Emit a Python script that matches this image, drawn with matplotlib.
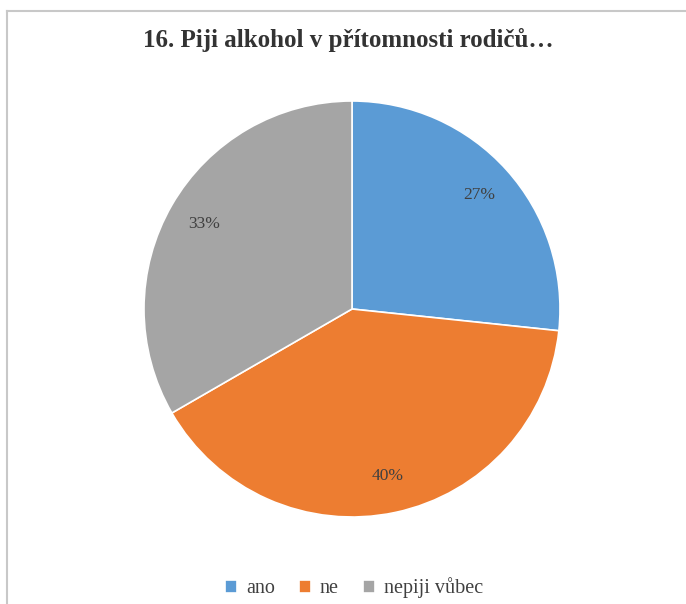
import matplotlib.pyplot as plt
from matplotlib.lines import Line2D

# odpovědi na otázku 16
labels = ['ano', 'ne', 'nepiji vůbec']
counts = [8, 12, 10]
colors = ['#5B9BD5', '#ED7D31', '#A5A5A5']

plt.rcParams['font.family'] = ['Liberation Serif', 'DejaVu Serif']

fig = plt.figure(figsize=(6.86, 6.04), dpi=100)
W, H = 686, 604

# rámeček grafu (levý a horní okraj)
fig.add_artist(Line2D([7 / W, 7 / W], [0, 1 - 11 / H], color='#C8C8C8', lw=1.5))
fig.add_artist(Line2D([7 / W, 1], [1 - 11 / H, 1 - 11 / H], color='#C8C8C8', lw=1.5))

# koláč: střed (352, 309), poloměr 208 px
r = 208
cx, cy = 352, 309
ax = fig.add_axes([(cx - r) / W, 1 - (cy + r) / H, 2 * r / W, 2 * r / H])
wedges, texts, autotexts = ax.pie(
    counts, colors=colors, startangle=90, counterclock=False,
    autopct=lambda p: f'{p:.0f}%', pctdistance=0.82,
    wedgeprops=dict(edgecolor='white', linewidth=1.2),
    textprops=dict(color='#404040', fontsize=12.5))
ax.set_aspect('equal')
ax.set_xlim(-1, 1)
ax.set_ylim(-1, 1)

fig.text(348 / W, 1 - 40 / H, '16. Piji alkohol v přítomnosti rodičů…',
         ha='center', va='center', fontsize=18, fontweight='bold', color='#333333')

fig.legend(wedges, labels, loc='center', bbox_to_anchor=(354 / W, 1 - 588 / H),
           ncol=3, frameon=False, fontsize=14.5, handlelength=0.6, handleheight=0.6,
           handletextpad=0.45, columnspacing=1.2, labelcolor='#404040')

fig.savefig('out.png', dpi=100, facecolor='white')
